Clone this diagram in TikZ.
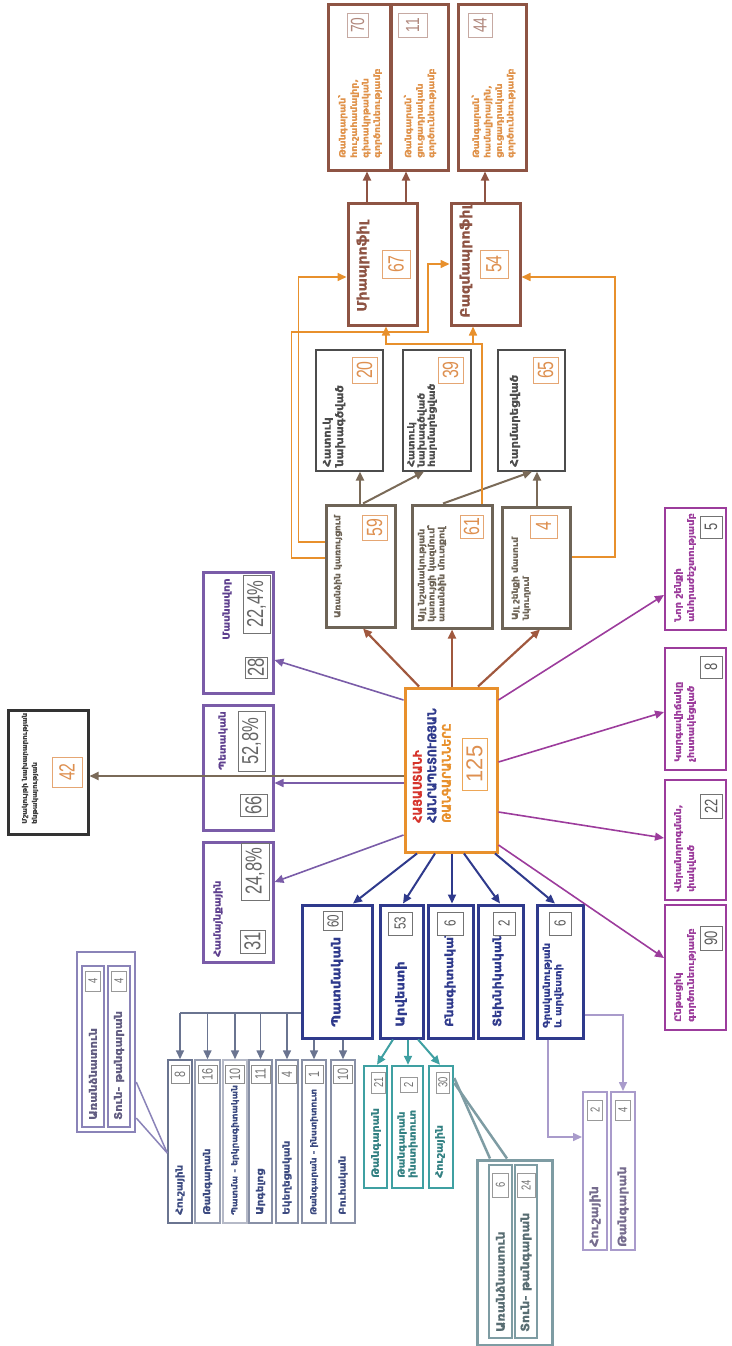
\documentclass[tikz,border=0pt]{standalone}
\usepackage{fontspec}
\setmainfont{DejaVu Sans}
\newfontfamily\armf{DejaVu Sans}[FakeStretch=1.1, FakeBold=0.6]
\newfontfamily\armc{DejaVu Sans}[FakeStretch=0.92, FakeBold=0.4]
\newfontfamily\numf{Liberation Sans}[FakeStretch=0.72]
\newfontfamily\numw{Liberation Sans}[FakeStretch=0.95]
\usetikzlibrary{arrows.meta}
\newcommand\fsz[2]{\fontsize{#1}{#2}\selectfont}
\newcommand\Bx[6]{\node[#1, rotate=90, minimum width={(#6-#4)*1pt}, minimum height={(#5-#3)*1pt}] (#2) at ({(#3+#5)/2},{(#4+#6)/2}) {};}
\newcommand\Tx[5]{\node[#1, inner sep=0pt, rotate=90, anchor=west, align=left] (#2) at (#3,#4) {#5};}
\newcommand\Nx[7]{\node[#1, rotate=90, minimum width=#5pt, minimum height=#6pt] (#2) at (#3,#4) {#7};}
\definecolor{corange}{HTML}{E8902C}
\definecolor{cnumor}{HTML}{DE9050}
\definecolor{cred}{HTML}{D6342C}
\definecolor{cnavy}{HTML}{2F3A8C}
\definecolor{cpurple}{HTML}{7A5CA8}
\definecolor{cpurtext}{HTML}{5E3F8E}
\definecolor{cmag}{HTML}{9C3C9C}
\definecolor{cbrown}{HTML}{8E5444}
\definecolor{cbrarrow}{HTML}{A0583E}
\definecolor{cgraybr}{HTML}{6E6457}
\definecolor{cgbarrow}{HTML}{7A6A58}
\definecolor{cteal}{HTML}{3FA0A2}
\definecolor{cgteal}{HTML}{7E9CA3}
\definecolor{csub}{HTML}{6A7490}
\definecolor{csubtext}{HTML}{3C4A80}
\definecolor{clpur}{HTML}{8A83B8}
\definecolor{clpur2}{HTML}{A99BCB}
\definecolor{ctopor}{HTML}{E0924A}
\begin{document}
\begin{tikzpicture}[x=1pt,y=-1pt,
  box/.style={draw, fill=white, inner sep=0pt},
  num/.style={draw, line width=0.8pt, fill=white, inner sep=0pt},
  tip/.style={-{Triangle[length=9pt,width=8pt]}},
  tcen/.style={font=\armc\bfseries\fsz{12}{14.5}},
  tpur/.style={text=cpurtext, font=\armf\bfseries\fsz{9.5}{12}},
  tblk/.style={text=black!75, font=\armf\bfseries\fsz{6.5}{10}},
  tgb/.style={text=cgraybr, font=\armf\bfseries\fsz{8.6}{10}},
  tw/.style={text=black!70, font=\armf\bfseries\fsz{10.5}{12.5}},
  tmono/.style={text=cbrown, font=\armf\bfseries\fsz{13}{15}},
  ttop/.style={text=ctopor, font=\armf\bfseries\fsz{8.6}{11.5}},
  tmag/.style={text=cmag, font=\armf\bfseries\fsz{9}{13}},
  tnavy/.style={text=cnavy, font=\armf\bfseries\fsz{12.5}{12}},
  tsub/.style={text=csubtext, font=\armf\bfseries\fsz{9.5}{11}},
  tcy/.style={text=cteal!80!black, font=\armf\bfseries\fsz{10}{11}},
  tgt/.style={text=cgteal!70!black, font=\armf\bfseries\fsz{11.5}{13}},
  tgl/.style={text=clpur!70!black, font=\armf\bfseries\fsz{10.5}{13}},
  tlp/.style={text=clpur2!70!black, font=\armf\bfseries\fsz{11.5}{13}},
  ncen/.style={num, draw=corange!80, text=cnumor, font=\numw\fsz{23}{23}},
  npur/.style={num, draw=black!55, text=black!60, font=\numf\fsz{23}{23}},
  nor/.style={num, draw=cnumor!80, text=cnumor, font=\numf\fsz{22}{22}},
  ntop/.style={num, draw=cbrown!50, text=cbrown!70, font=\numf\fsz{19}{19}},
  nmag/.style={num, draw=black!55, text=black!65, font=\numf\fsz{18}{18}},
  nnavy/.style={num, draw=black!55, text=black!65, font=\numf\fsz{16}{16}},
  nsub/.style={num, draw=black!45, text=black!55, font=\numf\fsz{15}{15}},
  nsm/.style={num, draw=black!40, text=black!55, font=\numf\fsz{13}{13}},
  parr/.style={tip, draw=cpurple, line width=1.6pt, fill=cpurple},
  garr/.style={tip, draw=cgbarrow, line width=1.8pt},
  brarr/.style={tip, draw=cbrarrow, line width=2.2pt},
  gbarr/.style={tip, draw=cgbarrow, line width=2pt},
  oarr/.style={tip, draw=corange, line width=1.6pt},
  tarr/.style={tip, draw=cbrown, line width=2pt},
  marr/.style={tip, draw=cmag, line width=1.6pt},
  narr/.style={tip, draw=cnavy, line width=2pt},
  sarr/.style={tip, draw=csub, line width=1.6pt},
  sline/.style={draw=csub, line width=1.6pt},
  tlarr/.style={tip, draw=cteal, line width=2pt},
  gtline/.style={draw=cgteal, line width=2.5pt},
  glline/.style={draw=clpur, line width=1.5pt},
  lparr/.style={tip, draw=clpur2, line width=1.6pt}
]
\useasboundingbox (0,0) rectangle (731,1346);

% ---------- boxes ----------
\Bx{box, draw=corange, line width=3pt}{c}{405}{688}{497}{852}
\Bx{box, draw=cpurple, line width=3pt}{priv}{203}{572}{273}{693}
\Bx{box, draw=cpurple, line width=3pt}{state}{203}{705}{273}{830}
\Bx{box, draw=cpurple, line width=3pt}{comm}{203}{842}{273}{962}
\Bx{box, draw=black!80, line width=3pt}{k42}{8}{710}{88}{834}
\Bx{box, draw=cgraybr, line width=3pt}{b59}{326}{505}{395}{627}
\Bx{box, draw=cgraybr, line width=3pt}{b61}{412}{505}{492}{628}
\Bx{box, draw=cgraybr, line width=3pt}{b4}{502}{507}{570}{628}
\Bx{box, draw=black!70, line width=1.2pt}{w20}{316}{350}{383}{471}
\Bx{box, draw=black!70, line width=1.2pt}{w39}{403}{350}{471}{471}
\Bx{box, draw=black!70, line width=1.2pt}{w65}{498}{350}{565}{471}
\Bx{box, draw=cbrown, line width=3pt}{mono}{348}{203}{417}{325}
\Bx{box, draw=cbrown, line width=3pt}{multi}{451}{203}{520}{325}
\Bx{box, draw=cbrown, line width=3pt}{t70}{328}{5}{390}{170}
\Bx{box, draw=cbrown, line width=3pt}{t11}{391}{5}{448}{170}
\Bx{box, draw=cbrown, line width=3pt}{t44}{458}{5}{526}{170}
\Bx{box, draw=cmag, line width=2pt}{r5}{665}{508}{726}{630}
\Bx{box, draw=cmag, line width=2pt}{r8}{665}{648}{726}{770}
\Bx{box, draw=cmag, line width=2pt}{r22}{665}{780}{726}{900}
\Bx{box, draw=cmag, line width=2pt}{r90}{665}{905}{726}{1030}
\Bx{box, draw=cnavy, line width=3pt}{n60}{302}{905}{372}{1038}
\Bx{box, draw=cnavy, line width=3pt}{n53}{380}{905}{423}{1038}
\Bx{box, draw=cnavy, line width=3pt}{n6}{428}{905}{473}{1038}
\Bx{box, draw=cnavy, line width=3pt}{n2}{478}{905}{523}{1038}
\Bx{box, draw=cnavy, line width=3pt}{n6b}{537}{905}{583}{1038}
\Bx{box, draw=csub, line width=1.5pt}{s1}{168}{1060}{192}{1223}
\Bx{box, draw=csub!70, line width=1.5pt}{s2}{195}{1060}{220}{1223}
\Bx{box, draw=csub!50, line width=1.5pt}{s3}{223}{1060}{247}{1223}
\Bx{box, draw=csub!80, line width=1.5pt}{s4}{249}{1060}{272}{1223}
\Bx{box, draw=csub!80, line width=1.5pt}{s5}{276}{1060}{298}{1223}
\Bx{box, draw=csub!80, line width=1.5pt}{s6}{302}{1060}{326}{1223}
\Bx{box, draw=csub!80, line width=1.5pt}{s7}{331}{1060}{355}{1223}
\Bx{box, draw=clpur, line width=2.5pt}{g1}{77}{952}{135}{1132}
\Bx{box, draw=clpur, line width=1.5pt}{g1a}{82}{966}{104}{1127}
\Bx{box, draw=clpur, line width=1.5pt}{g1b}{108}{966}{130}{1127}
\Bx{box, draw=cteal, line width=2.5pt}{cy1}{364}{1066}{387}{1188}
\Bx{box, draw=cteal, line width=2.5pt}{cy2}{392}{1066}{423}{1188}
\Bx{box, draw=cteal, line width=2.5pt}{cy3}{429}{1066}{453}{1188}
\Bx{box, draw=cgteal, line width=3pt}{g2}{477}{1160}{552}{1345}
\Bx{box, draw=cgteal, line width=1.5pt}{g2a}{489}{1165}{512}{1338}
\Bx{box, draw=cgteal, line width=1.5pt}{g2b}{515}{1165}{537}{1338}
\Bx{box, draw=clpur2, line width=2pt}{p1}{583}{1092}{607}{1250}
\Bx{box, draw=clpur2, line width=2pt}{p2}{611}{1092}{635}{1250}

% ---------- connectors ----------
\draw[parr] (c.north |- 0,700) -- (priv.south |- 0,660);
\draw[parr] (c.north |- 0,783) -- (state.south |- 0,783);
\draw[parr] (c.north |- 0,835) -- (comm.south |- 0,882);
\draw[garr] (c.north |- 0,776) -- (k42.south |- 0,776);
\draw[brarr] (c.east -| 419,0) -- (b59.west -| 363,0);
\draw[brarr] (c.east -| 452,0) -- (b61.west -| 452,0);
\draw[brarr] (c.east -| 478,0) -- (b4.west -| 540,0);
\draw[gbarr] (b59.east -| 360,0) -- (w20.west -| 360,0);
\draw[gbarr] (b59.east -| 363,0) -- (w39.west -| 424,0);
\draw[gbarr] (b61.east -| 443,0) -- (w65.west -| 532,0);
\draw[gbarr] (b4.east -| 537,0) -- (w65.west -| 537,0);
\draw[oarr] (b59.north |- 0,542) -- ++(-26,0) |- (mono.north |- 0,277);
\draw[oarr] (b59.north |- 0,558) -- ++(-33,0) |- (428,332) |- (multi.north |- 0,264);
\draw[oarr] (b61.east -| 482,0) |- (386,344) -- (mono.west -| 386,0);
\coordinate (obr) at (473,344);
\draw[oarr] (obr) -- (multi.west -| obr);
\draw[oarr] (b4.south |- 0,557) -| (615,277) -- (multi.south |- 0,277);
\draw[tarr] (mono.east -| 367,0) -- (t70.west -| 367,0);
\draw[tarr] (mono.east -| 406,0) -- (t11.west -| 406,0);
\draw[tarr] (multi.east -| 485,0) -- (t44.west -| 485,0);
\draw[marr] (c.south |- 0,700) -- (r5.north |- 0,595);
\draw[marr] (c.south |- 0,762) -- (r8.north |- 0,712);
\draw[marr] (c.south |- 0,812) -- (r22.north |- 0,838);
\draw[marr] (c.south |- 0,845) -- (r90.north |- 0,958);
\draw[narr] (c.west -| 417,0) -- (n60.east -| 353,0);
\draw[narr] (c.west -| 435,0) -- (n53.east -| 403,0);
\draw[narr] (c.west -| 452,0) -- (n6.east -| 452,0);
\draw[narr] (c.west -| 464,0) -- (n2.east -| 500,0);
\draw[narr] (c.west -| 495,0) -- (n6b.east -| 555,0);
\coordinate (hl) at (n60.north |- 0,1013);
\draw[sline] (hl) -- (hl -| s1.east);
\foreach \s in {s1,s2,s3,s4,s5} {\draw[sarr] (hl -| \s.east) -- (\s.east);}
\draw[sarr] (n60.west -| s6.east) -- (s6.east);
\draw[sarr] (n60.west -| s7.east) -- (s7.east);
\draw[glline] (s1.north |- 0,1153) -- (g1.south |- 0,1082);
\draw[glline] (s1.north |- 0,1153) -- (g1.south |- 0,1118);
\draw[tlarr] (n53.west -| 393,0) -- (cy1.east -| 377,0);
\draw[tlarr] (n53.west -| 408,0) -- (cy2.east -| 408,0);
\draw[tlarr] (n53.west -| 418,0) -- (cy3.east -| 440,0);
\draw[gtline] (cy3.south |- 0,1078) -- (g2.east -| 490,0);
\draw[gtline] (cy3.south |- 0,1083) -- (g2.east -| 507,0);
\draw[lparr] (n6b.west -| 548,0) |- (p1.north |- 0,1137);
\draw[lparr] (n6b.south |- 0,1015) -| (p2.east);

% ---------- texts ----------
\Tx{tcen}{ctext}{432}{823}{\textcolor{cred}{ՀԱՅԱՍՏԱՆԻ}\\\textcolor{cnavy}{ՀԱՆՐԱՊԵՏՈՒԹՅԱՆ}\\\textcolor{corange}{ԹԱՆԳԱՐԱՆՆԵՐԸ}}
\Nx{ncen}{c125}{474.5}{764}{52}{25}{125}

\Tx{tpur}{privt}{227}{640}{Մասնավոր}
\Nx{npur}{privn}{256}{667.5}{21}{22}{28}
\Nx{npur}{privp}{256.5}{604}{58}{27}{22,4\%}
\Tx{tpur}{statet}{223}{770}{Պետական}
\Nx{npur}{staten}{253.5}{805}{22}{27}{66}
\Nx{npur}{statep}{251.5}{741.5}{60}{27}{52,8\%}
\Tx{tpur}{commt}{218}{957}{Համայնքային}
\Nx{npur}{commn}{252.5}{941.5}{23}{25}{31}
\Nx{npur}{commp}{255}{871.5}{57}{28}{24,8\%}

\Tx{tblk}{k42t}{30}{824}{Մշակույթի նախարարության\\ենթակայության}
\Nx{nor}{k42n}{67}{772}{30}{30}{42}

\Tx{tgb, font=\armf\bfseries\fsz{8.2}{10}}{b59t}{338}{618}{Առանձին կառույցում}
\Nx{nor}{b59n}{374.5}{527.5}{25}{25}{59}
\Tx{tgb}{b61t}{432}{622}{Այլ նշանակության\\կառույցի կազմում՝\\առանձին մուտքով}
\Nx{nor}{b61n}{471.5}{526.5}{23}{23}{61}
\Tx{tgb, font=\armf\bfseries\fsz{8.2}{11}}{b4t}{521}{620}{Այլ շենքի մասում\\նկուղում}
\Nx{nor}{b4n}{543.5}{526.5}{23}{27}{4}

\Tx{tw}{w20t}{334}{467}{Հատուկ\\նախագծված}
\Nx{nor}{w20n}{364.5}{370}{26}{25}{20}
\Tx{tw, font=\armf\bfseries\fsz{9.5}{10.2}}{w39t}{422}{467}{Հատուկ\\նախագծված\\հարմարեցված}
\Nx{nor}{w39n}{450.5}{370}{26}{25}{39}
\Tx{tw}{w65t}{515}{467}{Հարմարեցված}
\Nx{nor}{w65n}{545.5}{370}{26}{25}{65}

\Tx{tmono}{monot}{363}{312}{Միապրոֆիլ}
\Nx{nor}{monon}{396}{264}{28}{28}{67}
\Tx{tmono}{multit}{466}{318}{Բազմապրոֆիլ}
\Nx{nor}{multin}{494}{264}{28}{28}{54}

\Tx{ttop}{t70t}{360}{158}{Թանգարան՝\\հուշահամալիր,\\գիտակրթական\\գործունեությամբ}
\Nx{ntop}{t70n}{357.5}{25}{24}{21}{70}
\Tx{ttop}{t11t}{420}{158}{Թանգարան՝\\ցուցադրական\\գործունեությամբ}
\Nx{ntop}{t11n}{412.5}{25}{24}{29}{11}
\Tx{ttop}{t44t}{493.5}{158}{Թանգարան՝\\համալիրային,\\ցուցադրական\\գործունեությամբ}
\Nx{ntop}{t44n}{480}{25}{24}{24}{44}

\Tx{tmag}{r5t}{685}{622}{Նոր շենքի\\անհրաժեշտությամբ}
\Nx{nmag}{r5n}{711}{527}{22}{22}{5}
\Tx{tmag}{r8t}{685}{762}{Կարգավիճակը\\չհստակեցված}
\Nx{nmag}{r8n}{711}{667}{22}{22}{8}
\Tx{tmag}{r22t}{685}{892}{Վերանորոգման,\\փակված}
\Nx{nmag}{r22n}{711}{806}{24}{22}{22}
\Tx{tmag}{r90t}{685}{1022}{Ընթացիկ\\գործունեությամբ}
\Nx{nmag}{r90n}{711}{938}{24}{22}{90}

\Tx{tnavy}{n60t}{337}{1027}{Պատմական}
\Nx{nnavy}{n60n}{333}{921}{19}{19}{60}
\Tx{tnavy, font=\armf\bfseries\fsz{12}{12}}{n53t}{401}{1027}{Արվեստի}
\Nx{nnavy}{n53n}{400}{923.5}{23}{24}{53}
\Tx{tnavy, font=\armf\bfseries\fsz{11.5}{12}}{n6t}{450}{1027}{Բնագիտական}
\Nx{nnavy}{n6n}{450}{923.5}{23}{26}{6}
\Tx{tnavy, font=\armf\bfseries\fsz{11.5}{12}}{n2t}{498}{1027}{Տեխնիկական}
\Nx{nnavy}{n2n}{504}{923.5}{23}{22}{2}
\Tx{tnavy, font=\armf\bfseries\fsz{9.3}{11.5}}{n6bt}{553}{1028}{Գրականության\\և արվեստի}
\Nx{nnavy}{n6bn}{560}{923.5}{23}{22}{6}

\Tx{tsub}{s1t}{180}{1215}{Հուշային}
\Nx{nsub}{s1n}{180}{1074}{18}{18}{8}
\Tx{tsub}{s2t}{207.5}{1215}{Թանգարան}
\Nx{nsub}{s2n}{207.5}{1074}{18}{19}{16}
\Tx{tsub, font=\armf\bfseries\fsz{8.2}{10}}{s3t}{235}{1215}{Պատմա - երկրագիտական}
\Nx{nsub}{s3n}{235}{1074}{18}{19}{10}
\Tx{tsub}{s4t}{260.5}{1215}{Արգելոց}
\Nx{nsub}{s4n}{260.5}{1074}{18}{19}{11}
\Tx{tsub}{s5t}{287}{1215}{Եկեղեցական}
\Nx{nsub}{s5n}{287}{1074}{18}{18}{4}
\Tx{tsub, font=\armf\bfseries\fsz{8.2}{10}}{s6t}{314}{1215}{Թանգարան - ինստիտուտ}
\Nx{nsub}{s6n}{314}{1074}{18}{18}{1}
\Tx{tsub}{s7t}{343}{1215}{Բուհական}
\Nx{nsub}{s7n}{343}{1074}{18}{19}{10}

\Tx{tgl}{g1at}{93}{1120}{Առանձնատուն}
\Nx{nsm}{g1an}{93}{981}{20}{15}{4}
\Tx{tgl}{g1bt}{119}{1120}{Տուն- թանգարան}
\Nx{nsm}{g1bn}{119}{981}{20}{15}{4}

\Tx{tcy}{cy1t}{376}{1178}{Թանգարան}
\Nx{nsm}{cy1n}{378.5}{1082.5}{21}{14}{21}
\Tx{tcy, font=\armf\bfseries\fsz{9.5}{11}}{cy2t}{407.5}{1178}{Թանգարան\\ինստիտուտ}
\Nx{nsm}{cy2n}{408.5}{1084.5}{15}{17}{2}
\Tx{tcy}{cy3t}{440}{1178}{Հուշային}
\Nx{nsm}{cy3n}{443}{1082.5}{21}{13}{30}

\Tx{tgt}{g2at}{500.5}{1332}{Առանձնատուն}
\Nx{nsm}{g2an}{500.5}{1185}{24}{16}{6}
\Tx{tgt}{g2bt}{526}{1332}{Տուն- թանգարան}
\Nx{nsm}{g2bn}{526}{1185}{24}{18}{24}

\Tx{tlp}{p1t}{595}{1247}{Հուշային}
\Nx{nsm}{p1n}{595}{1110}{20}{15}{2}
\Tx{tlp}{p2t}{623}{1247}{Թանգարան}
\Nx{nsm}{p2n}{623}{1110}{20}{15}{4}
\end{tikzpicture}
\end{document}
